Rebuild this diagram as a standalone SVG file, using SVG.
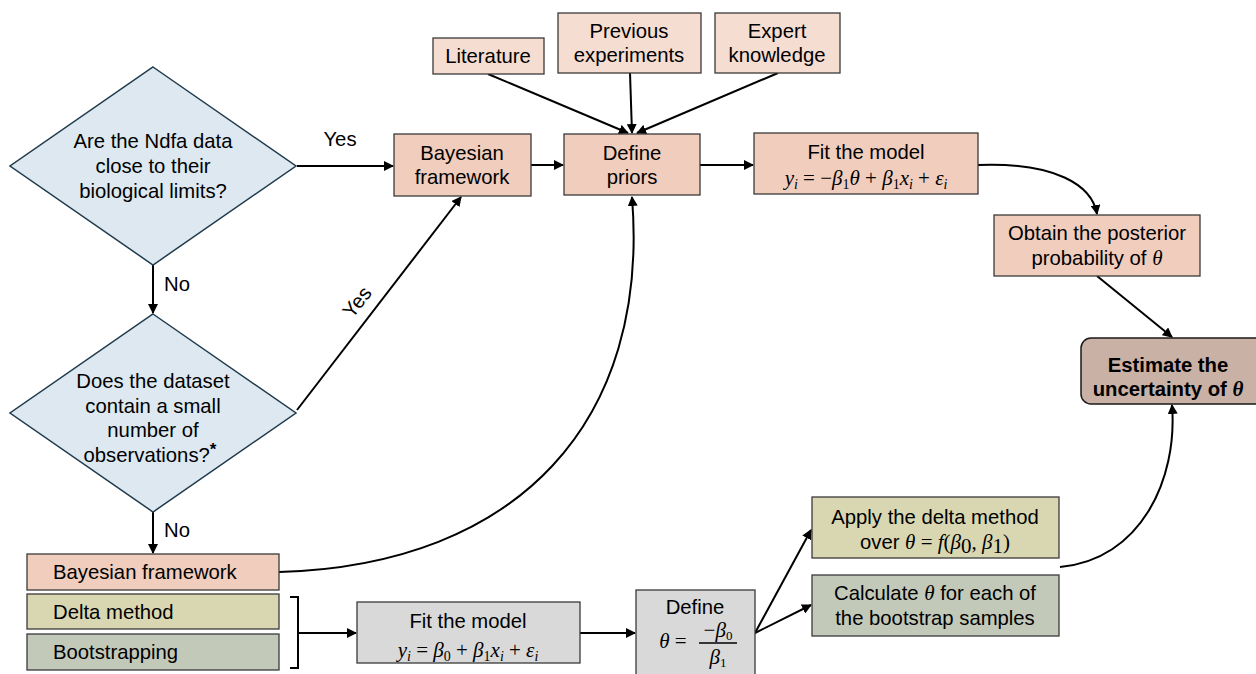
<svg xmlns="http://www.w3.org/2000/svg" width="1256" height="674" viewBox="0 0 1256 674">
<defs>
<marker id="arr" viewBox="0 0 10 10" refX="9" refY="5" markerWidth="5" markerHeight="5" orient="auto-start-reverse" markerUnits="strokeWidth">
<path d="M0,0 L10,5 L0,10 z" fill="#000"/>
</marker>
<style>
text{font-family:"Liberation Sans",Arial,sans-serif;font-size:20.3px;fill:#000;text-anchor:middle}
.m{font-family:"Liberation Serif","DejaVu Serif",serif;font-style:italic;font-size:21px}
.up{font-style:normal}
.b{font-weight:bold}
.l{text-anchor:start}
.box{stroke:#3a3a3a;stroke-width:1.3}
.pk{fill:#f0cdbd}
.pl{fill:#f6ddd1}
.dia{fill:#dde8f0;stroke:#1e3a4c;stroke-width:1.5}
.gr{fill:#d9d9d9}
.dl{fill:#d9d7b1}
.bs{fill:#c3c9b9}
.c{fill:none;stroke:#000;stroke-width:2}
.ca{fill:none;stroke:#000;stroke-width:2;marker-end:url(#arr)}
</style>
</defs>

<g id="connectors">
<path class="ca" d="M297,166 L393,166"/>
<path class="ca" d="M153,265 L153,313"/>
<path class="ca" d="M297,410 L461,197"/>
<path class="ca" d="M153,512 L153,553"/>
<path class="ca" d="M531,165 L563,165"/>
<path class="ca" d="M488,74 L628,133"/>
<path class="ca" d="M630,73 L632,133"/>
<path class="ca" d="M778,73 L637,133"/>
<path class="ca" d="M700,165 L753,165"/>
<path class="ca" d="M978,165 C1055,162 1092,185 1097,214"/>
<path class="ca" d="M1097,276 L1172,337"/>
<path class="ca" d="M279,572 C520,565 650,420 632,197"/>
<path class="c" d="M290,597 L298,597 L298,668 L290,668"/>
<path class="ca" d="M298,633 L356,633"/>
<path class="ca" d="M580,633 L635,633"/>
<path class="ca" d="M755,633 L811,530"/>
<path class="ca" d="M755,633 L811,605"/>
<path class="ca" d="M1060,567 C1140,560 1178,480 1172,405"/>
<text x="340" y="146">Yes</text>
<text x="177" y="291">No</text>
<text x="177" y="537">No</text>
<text x="357" y="309" transform="rotate(-52 357 302)">Yes</text>
</g>

<g id="q1">
<polygon class="dia" points="153,67 296,166 153,265 10,166"/>
<text x="153" y="148">Are the Ndfa data</text>
<text x="153" y="173">close to their</text>
<text x="153" y="198">biological limits?</text>
</g>

<g id="q2">
<polygon class="dia" points="153,314 296,413 153,512 10,413"/>
<text x="153" y="388">Does the dataset</text>
<text x="153" y="413">contain a small</text>
<text x="153" y="437">number of</text>
<text x="150" y="462">observations?<tspan class="b" font-size="17" dy="-7">*</tspan></text>
</g>

<g id="bayes-top">
<rect class="box pk" x="394" y="134" width="137" height="62"/>
<text x="462" y="160">Bayesian</text>
<text x="462" y="184">framework</text>
</g>

<g id="literature">
<rect class="box pl" x="433" y="38" width="111" height="36"/>
<text x="488" y="63">Literature</text>
</g>

<g id="previous">
<rect class="box pl" x="558" y="13" width="143" height="60"/>
<text x="629" y="38">Previous</text>
<text x="629" y="62">experiments</text>
</g>

<g id="expert">
<rect class="box pl" x="715" y="13" width="125" height="60"/>
<text x="777" y="38">Expert</text>
<text x="777" y="62">knowledge</text>
</g>

<g id="priors">
<rect class="box pk" x="564" y="134" width="136" height="61"/>
<text x="632" y="160">Define</text>
<text x="632" y="184">priors</text>
</g>

<g id="fit-top">
<rect class="box pk" x="754" y="133" width="224" height="61"/>
<text x="866" y="159">Fit the model</text>
<text class="m" x="866" y="185">y<tspan font-size="14" dy="4">i</tspan><tspan class="up" dy="-4"> = −</tspan>β<tspan class="up" font-size="14" dy="4">1</tspan><tspan dy="-4">θ</tspan><tspan class="up"> + </tspan>β<tspan class="up" font-size="14" dy="4">1</tspan><tspan dy="-4">x</tspan><tspan font-size="14" dy="4">i</tspan><tspan class="up" dy="-4"> +  </tspan>ε<tspan font-size="14" dy="4">i</tspan></text>
</g>

<g id="posterior">
<rect class="box pk" x="994" y="215" width="206" height="61"/>
<text x="1097" y="240">Obtain the posterior</text>
<text x="1097" y="265">probability of <tspan class="m" font-size="20">θ</tspan></text>
</g>

<g id="estimate">
<rect x="1081" y="338" width="185" height="66" rx="10" ry="10" fill="#c9b1a6" stroke="#1a1a1a" stroke-width="1.5"/>
<text class="b" x="1168" y="372">Estimate the</text>
<text class="b" x="1168" y="396">uncertainty of <tspan class="m b" font-size="20">θ</tspan></text>
</g>

<g id="bayes-bottom">
<rect class="box pk" x="27" y="554" width="252" height="36"/>
<text class="l" x="53" y="579">Bayesian framework</text>
</g>

<g id="delta">
<rect class="box dl" x="27" y="594" width="252" height="35"/>
<text class="l" x="53" y="619">Delta method</text>
</g>

<g id="boot">
<rect class="box bs" x="27" y="634" width="252" height="36"/>
<text class="l" x="53" y="659">Bootstrapping</text>
</g>

<g id="fit-bottom">
<rect class="box gr" x="357" y="602" width="223" height="61"/>
<text x="468" y="628">Fit the model</text>
<text class="m" x="468" y="657">y<tspan font-size="14" dy="4">i</tspan><tspan class="up" dy="-4"> = </tspan>β<tspan class="up" font-size="14" dy="4">0</tspan><tspan class="up" dy="-4"> + </tspan>β<tspan class="up" font-size="14" dy="4">1</tspan><tspan dy="-4">x</tspan><tspan font-size="14" dy="4">i</tspan><tspan class="up" dy="-4"> +  </tspan>ε<tspan font-size="14" dy="4">i</tspan></text>
</g>

<g id="define-theta">
<rect class="box gr" x="636" y="590" width="119" height="90"/>
<text x="695" y="614">Define</text>
<text class="m" x="673" y="648">θ<tspan class="up"> =</tspan></text>
<text class="m" x="718" y="637" font-size="19"><tspan class="up">−</tspan>β<tspan class="up" font-size="13" dy="3">0</tspan></text>
<line x1="699" y1="643" x2="737" y2="643" stroke="#000" stroke-width="1.3"/>
<text class="m" x="718" y="664" font-size="19">β<tspan class="up" font-size="13" dy="3">1</tspan></text>
</g>

<g id="apply-delta">
<rect class="box dl" x="812" y="497" width="247" height="61"/>
<text x="935" y="524">Apply the delta method</text>
<text x="935" y="549">over <tspan class="m">θ</tspan><tspan class="m up"> = </tspan><tspan class="m">f</tspan><tspan class="m up">(</tspan><tspan class="m">β</tspan><tspan class="m up" font-size="14" dy="4">0</tspan><tspan class="m up" dy="-4">, </tspan><tspan class="m">β</tspan><tspan class="m up" font-size="14" dy="4">1</tspan><tspan class="m up" dy="-4">)</tspan></text>
</g>

<g id="calc-boot">
<rect class="box bs" x="812" y="575" width="247" height="61"/>
<text x="935" y="600">Calculate <tspan class="m" font-size="20">θ</tspan> for each of</text>
<text x="935" y="625">the bootstrap samples</text>
</g>
</svg>
